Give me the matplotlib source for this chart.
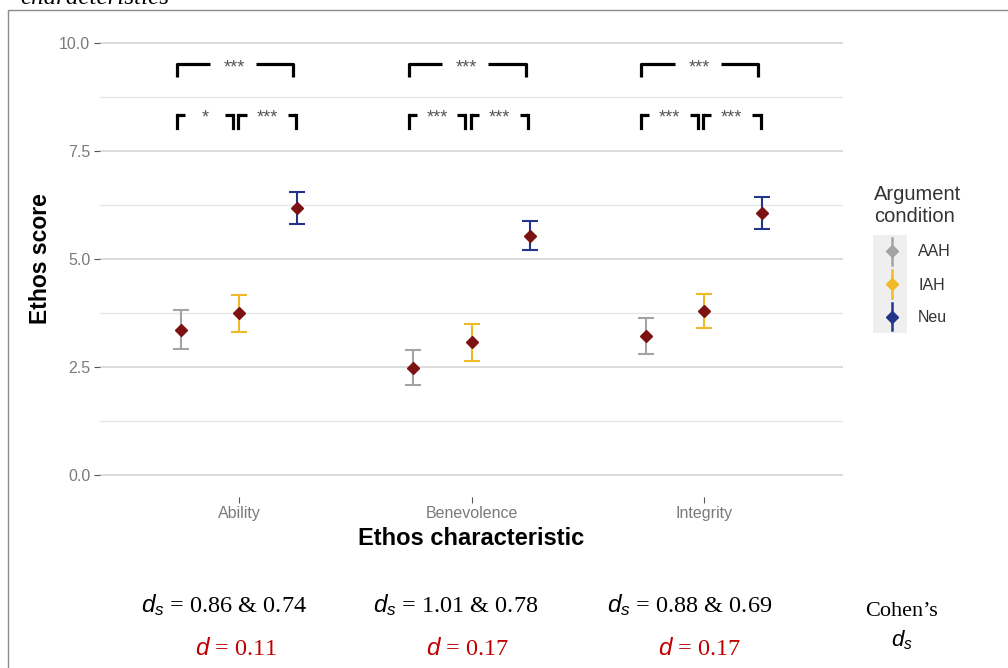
import numpy as np
import matplotlib.pyplot as plt
from matplotlib.patches import Rectangle

plt.rcParams['font.family'] = ['Liberation Sans', 'DejaVu Sans']
plt.rcParams['mathtext.fontset'] = 'custom'
plt.rcParams['mathtext.it'] = 'Liberation Sans:italic'
plt.rcParams['mathtext.rm'] = 'Liberation Serif'

# data
characteristics = ["Ability", "Benevolence", "Integrity"]
conditions = ["AAH", "IAH", "Neu"]
aah_mean = [3.36, 2.48, 3.22]
aah_hi = [3.81, 2.89, 3.64]
aah_lo = [2.91, 2.08, 2.80]
iah_mean = [3.75, 3.07, 3.80]
iah_hi = [4.17, 3.50, 4.18]
iah_lo = [3.31, 2.64, 3.41]
neu_mean = [6.19, 5.53, 6.06]
neu_hi = [6.55, 5.88, 6.43]
neu_lo = [5.81, 5.21, 5.70]
sig_top = ["***", "***", "***"]
sig_left = ["*", "***", "***"]
sig_right = ["***", "***", "***"]
ds_text = ["0.86 & 0.74", "1.01 & 0.78", "0.88 & 0.69"]
d_text = ["0.11", "0.17", "0.17"]

colors = {"AAH": "#a3a3a3", "IAH": "#f0b928", "Neu": "#23358a"}
point_col = "#7d1212"

W, H = 1008, 668
fig = plt.figure(figsize=(W / 100, H / 100), dpi=100)

def px(x0, y0, x1, y1):
    return [x0 / W, 1 - y1 / H, (x1 - x0) / W, (y1 - y0) / H]

ax = fig.add_axes(px(100, 21.4, 843, 496.6))
ax.set_xlim(0.4, 3.6)
ax.set_ylim(-0.5, 10.5)

x = np.arange(1, len(characteristics) + 1)
dodge = {"AAH": -0.25, "IAH": 0.0, "Neu": 0.25}
series = {"AAH": (aah_mean, aah_lo, aah_hi),
          "IAH": (iah_mean, iah_lo, iah_hi),
          "Neu": (neu_mean, neu_lo, neu_hi)}

for c in conditions:
    m, lo, hi = (np.array(v) for v in series[c])
    xx = x + dodge[c]
    ax.errorbar(xx, m, yerr=[m - lo, hi - m], fmt='none', ecolor=colors[c],
                elinewidth=1.5, capsize=5.5, capthick=1.5, zorder=3)
    ax.plot(xx, m, 'D', color=point_col, markersize=6.5, zorder=4)

# grid
ax.set_yticks([0, 2.5, 5, 7.5, 10])
ax.set_yticklabels(["0.0", "2.5", "5.0", "7.5", "10.0"])
ax.set_yticks([1.25, 3.75, 6.25, 8.75], minor=True)
ax.grid(True, which='major', axis='y', color='#d9d9d9', lw=1.3)
ax.grid(True, which='minor', axis='y', color='#e6e6e6', lw=1.0)
ax.set_axisbelow(True)
ax.set_xticks(x)
ax.set_xticklabels(characteristics)
for s in ax.spines.values():
    s.set_visible(False)
ax.tick_params(axis='y', which='minor', length=0)
ax.tick_params(axis='both', which='major', length=4, color='#555555',
               labelcolor='#7a7a7a', labelsize=11.5, pad=3)
ax.set_xlabel("Ethos characteristic", fontsize=17, fontweight='bold', labelpad=4)
ax.set_ylabel("Ethos score", fontsize=16.5, fontweight='bold', labelpad=5)

# significance brackets
blw = 2.3
star_kw = dict(ha='center', va='baseline', fontsize=13, color='#555555')
for i, xc in enumerate(x):
    l, r = xc - 0.27, xc + 0.233
    y0, y1 = 9.21, 9.51
    ax.plot([l, l, l + 0.145], [y0, y1, y1], color='black', lw=blw,
            solid_capstyle='butt', solid_joinstyle='round')
    ax.plot([r - 0.16, r, r], [y1, y1, y0], color='black', lw=blw,
            solid_capstyle='butt', solid_joinstyle='round')
    ax.text(xc - 0.02, y1 - 0.2, sig_top[i], **star_kw)
    l, ml, mr, r = xc - 0.27, xc - 0.026, xc - 0.004, xc + 0.245
    y0, y1 = 8.03, 8.33
    h = 0.035
    for xa, xb, leg in [(l, l + h, l), (ml - h, ml, ml),
                        (mr, mr + h, mr), (r - h, r, r)]:
        ax.plot([xa, xb], [y1, y1], color='black', lw=blw,
                solid_capstyle='butt')
        ax.plot([leg, leg], [y0, y1], color='black', lw=blw,
                solid_capstyle='projecting')
    ax.text((l + ml) / 2, y1 - 0.18, sig_left[i], **star_kw)
    ax.text((mr + r) / 2, y1 - 0.18, sig_right[i], **star_kw)

# legend drawn by hand
fig.text(874 / W, 1 - 194 / H, "Argument", fontsize=14.5, color='#333333',
         va='center')
fig.text(874 / W, 1 - 216 / H, "condition", fontsize=14.5, color='#333333',
         va='center')
lax = fig.add_axes(px(873, 235, 907, 333))
lax.set_xlim(0, 1)
lax.set_ylim(0, 3)
lax.axis('off')
lax.add_patch(Rectangle((0, 0), 1, 3, color='#efefef', zorder=0))
for k, c in enumerate(conditions):
    yk = 2.5 - k
    lax.plot([0.55, 0.55], [yk - 0.42, yk + 0.42], color=colors[c], lw=1.8)
    lax.plot([0.55], [yk], 'D', color=colors[c], markersize=6)
    fig.text(918 / W, 1 - (252 + 33 * k) / H, c, fontsize=11.5,
             color='#333333', va='center')

# frame of the figure box
fig.patches.append(Rectangle((8 / W, -0.1), 1.2, 1.1 - 10 / H,
                             transform=fig.transFigure, fill=False,
                             edgecolor='#8c8c8c', lw=1.0))
fig.text(20 / W, 1 - 3.5 / H, "characteristics", family='Liberation Serif',
         style='italic', fontsize=18, va='baseline')

# effect sizes under the chart
ds_x = [224, 456, 690]
d_x = [236, 468, 700]
for i in range(3):
    fig.text(ds_x[i] / W, 1 - 605 / H, r"$d_s$ = " + ds_text[i],
             family='Liberation Serif', fontsize=17.5, ha='center', va='center')
    fig.text(d_x[i] / W, 1 - 649 / H, r"$d$ = " + d_text[i],
             family='Liberation Serif', fontsize=17.5, ha='center', va='center',
             color='#c00000')
fig.text(902 / W, 1 - 612 / H, "Cohen’s", family='Liberation Serif',
         fontsize=16, ha='center', va='center')
fig.text(902 / W, 1 - 640 / H, r"$d_s$", family='Liberation Serif',
         fontsize=16, ha='center', va='center')

fig.savefig("out.png", dpi=100)
